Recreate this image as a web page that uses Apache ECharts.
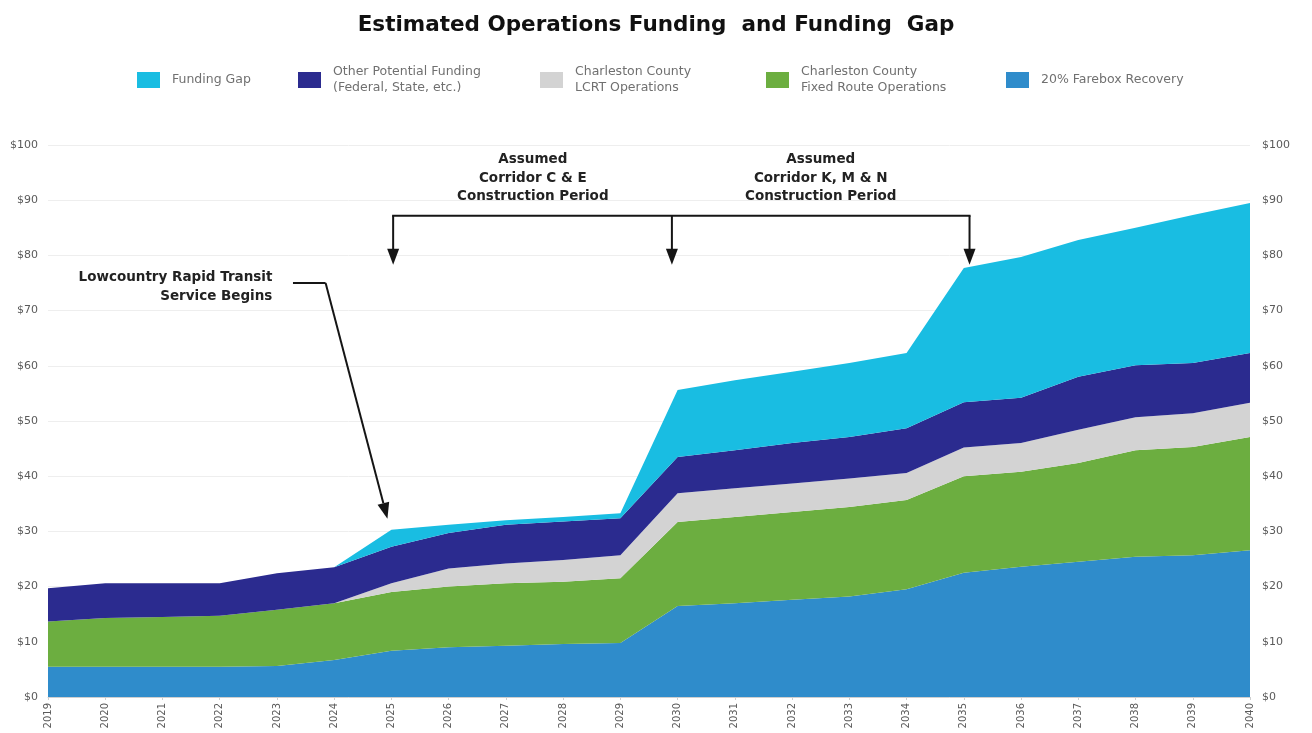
<!DOCTYPE html>
<html>
<head>
<meta charset="utf-8">
<title>Estimated Operations Funding and Funding Gap</title>
<script src="https://cdn.jsdelivr.net/npm/echarts@6/dist/echarts.min.js"></script>
<style>
  html, body { margin: 0; padding: 0; background: #fff; }
  #chart { width: 1312px; height: 733px; }
</style>
</head>
<body>
<div id="chart"></div>
<script>
// Fiscal years on the horizontal axis
const years = ['2019','2020','2021','2022','2023','2024','2025','2026','2027','2028','2029',
               '2030','2031','2032','2033','2034','2035','2036','2037','2038','2039','2040'];

// Operating funding by source, millions of dollars (stacked bottom to top)
const fareboxRecovery   = [5.5,5.5,5.5,5.5,5.6,6.7,8.4,9.0,9.3,9.6,9.8,16.5,17.0,17.6,18.2,19.5,22.5,23.6,24.5,25.4,25.7,26.6];
const fixedRouteOps     = [8.2,8.8,9.0,9.2,10.2,10.3,10.6,11.0,11.3,11.3,11.7,15.2,15.6,15.9,16.2,16.2,17.5,17.2,17.9,19.3,19.6,20.5];
const lcrtOps           = [0,0,0,0,0,0,1.6,3.3,3.6,3.9,4.2,5.2,5.2,5.2,5.2,4.9,5.2,5.2,6.0,6.0,6.1,6.2];
const otherFunding      = [6.0,6.3,6.1,5.9,6.6,6.5,6.6,6.4,7.0,7.0,6.7,6.6,6.9,7.3,7.5,8.1,8.2,8.2,9.6,9.4,9.1,9.0];
const fundingGap        = [0,0,0,0,0,0,3.1,1.5,0.8,0.8,0.9,12.1,12.7,12.9,13.4,13.6,24.3,25.5,24.8,24.9,26.8,27.2];

const yTicks = { min: 0, max: 100, interval: 10 };

const NAMES = {
  gap: 'Funding Gap',
  other: 'Other Potential Funding\n(Federal, State, etc.)',
  lcrt: 'Charleston County\nLCRT Operations',
  fixed: 'Charleston County\nFixed Route Operations',
  farebox: '20% Farebox Recovery'
};
const COLORS = {
  gap: '#19BDE2',
  other: '#2B2B8F',
  lcrt: '#D3D3D3',
  fixed: '#6CAE40',
  farebox: '#2F8CCB'
};

const FONT = '"DejaVu Sans", "Liberation Sans", Arial, sans-serif';

function areaSeries(key, data) {
  return {
    name: NAMES[key],
    type: 'line',
    stack: 'funding',
    data: data,
    symbol: 'none',
    smooth: false,
    lineStyle: { width: 0, color: COLORS[key] },
    itemStyle: { color: COLORS[key] },
    areaStyle: { color: COLORS[key], opacity: 1 },
    emphasis: { disabled: true },
    animation: false
  };
}

// One legend block per entry so each can sit at its own spot
function legendAt(key, left) {
  const twoLines = NAMES[key].indexOf('\n') >= 0;
  return {
    data: [NAMES[key]],
    left: left,
    top: twoLines ? 64 : 72,
    padding: 0,
    itemWidth: 23,
    itemHeight: 16,
    icon: 'rect',
    selectedMode: false,
    textStyle: {
      fontFamily: FONT,
      fontSize: 12.5,
      color: '#707070',
      lineHeight: 16,
      padding: [0, 0, 0, 7]
    }
  };
}

const axisLabelStyle = {
  fontFamily: FONT,
  fontSize: 11,
  color: '#5a5a5a'
};

const chart = echarts.init(document.getElementById('chart'), null, { renderer: 'canvas' });

chart.setOption({
  animation: false,
  backgroundColor: '#fff',
  title: {
    text: 'Estimated Operations Funding  and Funding  Gap',
    left: 'center',
    top: 9,
    textStyle: {
      fontFamily: FONT,
      fontWeight: 'bold',
      fontSize: 21.5,
      color: '#111'
    }
  },
  legend: [
    legendAt('gap', 137),
    legendAt('other', 298),
    legendAt('lcrt', 540),
    legendAt('fixed', 766),
    legendAt('farebox', 1006)
  ],
  grid: { left: 48, right: 62, top: 145, bottom: 36, containLabel: false },
  xAxis: {
    type: 'category',
    data: years,
    boundaryGap: false,
    axisLine: { lineStyle: { color: '#cfcfcf' } },
    axisTick: { show: true, alignWithLabel: true, length: 3, lineStyle: { color: '#cfcfcf' } },
    axisLabel: Object.assign({ rotate: 90, margin: 6, interval: 0 }, axisLabelStyle, { fontSize: 10 }),
    splitLine: { show: false }
  },
  yAxis: [
    {
      type: 'value',
      min: yTicks.min, max: yTicks.max, interval: yTicks.interval,
      position: 'left',
      axisLine: { show: false },
      axisTick: { show: false },
      axisLabel: Object.assign({ formatter: '${value}', margin: 10 }, axisLabelStyle),
      splitLine: { show: true, lineStyle: { color: '#eeeeee', width: 1 } }
    },
    {
      type: 'value',
      min: yTicks.min, max: yTicks.max, interval: yTicks.interval,
      position: 'right',
      axisLine: { show: false },
      axisTick: { show: false },
      axisLabel: Object.assign({ formatter: '${value}', margin: 12 }, axisLabelStyle),
      splitLine: { show: false }
    }
  ],
  series: [
    areaSeries('farebox', fareboxRecovery),
    areaSeries('fixed', fixedRouteOps),
    areaSeries('lcrt', lcrtOps),
    areaSeries('other', otherFunding),
    areaSeries('gap', fundingGap)
  ]
});

// ---- Callouts, placed in axis space --------------------------------------
function px(idx) {
  const i0 = Math.floor(idx), i1 = Math.min(i0 + 1, years.length - 1);
  const x0 = chart.convertToPixel({ xAxisIndex: 0 }, years[i0]);
  const x1 = chart.convertToPixel({ xAxisIndex: 0 }, years[i1]);
  return x0 + (x1 - x0) * (idx - i0);
}
function py(v) {
  return chart.convertToPixel({ yAxisIndex: 0 }, v);
}

const INK = '#151515';
const calloutFont = 'bold 13.5px "DejaVu Sans", "Liberation Sans", Arial, sans-serif';

function downArrow(x, yTop, yTip) {
  return [
    { type: 'line', shape: { x1: x, y1: yTop, x2: x, y2: yTip - 14 }, style: { stroke: INK, lineWidth: 2 } },
    { type: 'polygon', shape: { points: [[x - 6, yTip - 16], [x + 6, yTip - 16], [x, yTip]] }, style: { fill: INK } }
  ];
}

function slantedArrow(x1, y1, x2, y2) {
  const ang = Math.atan2(y2 - y1, x2 - x1);
  const len = 16, half = 6;
  const bx = x2 - len * Math.cos(ang), by = y2 - len * Math.sin(ang);
  const nx = -Math.sin(ang), ny = Math.cos(ang);
  return [
    { type: 'line', shape: { x1: x1, y1: y1, x2: bx, y2: by }, style: { stroke: INK, lineWidth: 2 } },
    { type: 'polygon', shape: { points: [[bx + nx * half, by + ny * half], [bx - nx * half, by - ny * half], [x2, y2]] }, style: { fill: INK } }
  ];
}

const bracketY = py(87.2);
const tipY = py(78.3);
const xA = px(6.03), xB = px(10.9), xC = px(16.1);

const graphics = [
  { type: 'line', shape: { x1: xA - 1, y1: bracketY, x2: xC + 1, y2: bracketY }, style: { stroke: INK, lineWidth: 2 } },
  ...downArrow(xA, bracketY, tipY),
  ...downArrow(xB, bracketY, tipY),
  ...downArrow(xC, bracketY, tipY),
  {
    type: 'text',
    x: px(8.47), y: py(99),
    style: { text: 'Assumed\nCorridor C & E\nConstruction Period', font: calloutFont, fill: '#222', textAlign: 'center', lineHeight: 18.5 }
  },
  {
    type: 'text',
    x: px(13.5), y: py(99),
    style: { text: 'Assumed\nCorridor K, M & N\nConstruction Period', font: calloutFont, fill: '#222', textAlign: 'center', lineHeight: 18.5 }
  },
  {
    type: 'text',
    x: px(3.92), y: py(77.8),
    style: { text: 'Lowcountry Rapid Transit\nService Begins', font: calloutFont, fill: '#222', textAlign: 'right', lineHeight: 19 }
  },
  { type: 'line', shape: { x1: px(4.28), y1: py(75.0), x2: px(4.85), y2: py(75.0) }, style: { stroke: INK, lineWidth: 2 } },
  ...slantedArrow(px(4.85), py(75.0), px(5.93), py(32.3))
];

chart.setOption({ graphic: graphics.map(g => Object.assign({ silent: true, z: 100 }, g)) });
</script>
</body>
</html>
